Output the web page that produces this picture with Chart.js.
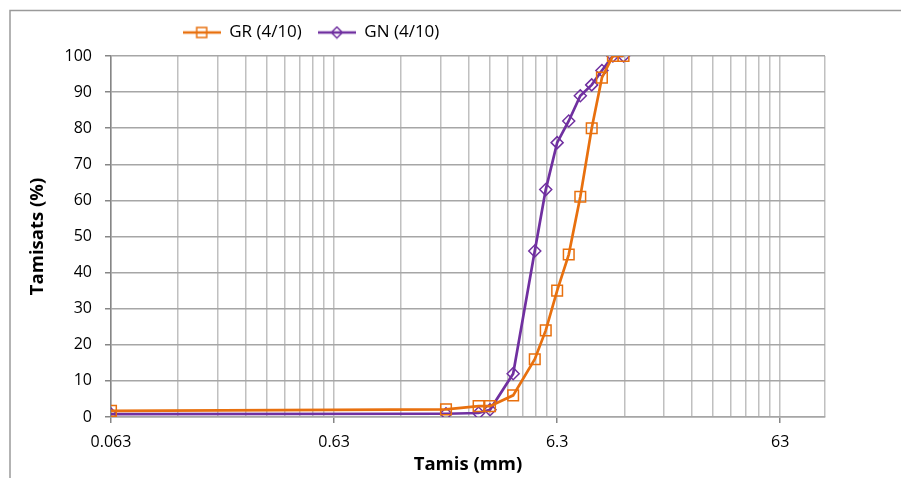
<!DOCTYPE html>
<html>
<head>
<meta charset="utf-8">
<script src="https://cdn.jsdelivr.net/npm/chart.js@4.4.1/dist/chart.umd.min.js"></script>
<style>
  html, body { margin: 0; padding: 0; background: #fff; }
</style>
</head>
<body>
<canvas id="grafico" width="901" height="478"></canvas>
<script>
// tamis (mm) et tamisats (%)
const tamis = [0.063, 2, 2.8, 3.15, 4, 5, 5.6, 6.3, 7.1, 8, 9, 10, 11.2, 12.5];
const tamisatsGR = [1.7, 2.1, 3, 3, 6, 16, 24, 35, 45, 61, 80, 94, 100, 100];
const tamisatsGN = [0.8, 0.9, 1.1, 2, 12, 46, 63, 76, 82, 89, 92, 96, 100, 100];
const etiquettesX = ['0.063', '0.63', '6.3', '63'];
const ticksMajeursX = [0.063, 0.63, 6.3, 63];
const ticksY = [0, 10, 20, 30, 40, 50, 60, 70, 80, 90, 100];

const orange = '#E8700E';
const violet = '#7030A0';
const police = "'Open Sans', sans-serif";

// grille du log : 1..9 x chaque majeur, jusqu'a 100
let grilleX = [];
ticksMajeursX.forEach(m => {
  for (let k = 1; k <= 9; k++) {
    const v = +(m * k).toPrecision(6);
    if (v <= 100) grilleX.push(v);
  }
});
grilleX.push(100);

function iconeLegende(couleur, forme) {
  const c = document.createElement('canvas');
  c.width = 38; c.height = 14;
  const ctx = c.getContext('2d');
  ctx.strokeStyle = couleur;
  ctx.lineWidth = 2.5;
  ctx.beginPath(); ctx.moveTo(0, 7); ctx.lineTo(38, 7); ctx.stroke();
  ctx.lineWidth = 1.5;
  ctx.beginPath();
  if (forme === 'rect') {
    ctx.rect(14, 2, 10, 10);
  } else {
    ctx.moveTo(19, 1.5); ctx.lineTo(24.5, 7); ctx.lineTo(19, 12.5); ctx.lineTo(13.5, 7); ctx.closePath();
  }
  ctx.stroke();
  return c;
}

const cadre = {
  id: 'cadre',
  afterLayout(chart) {
    // legende placee comme dans Excel
    const lg = chart.legend;
    const h = lg.bottom - lg.top;
    lg.left = 311 - 250;
    lg.right = 311 + 250;
    lg.top = 8;
    lg.bottom = 8 + h;
  },
  afterDraw(chart) {
    const ctx = chart.ctx;
    ctx.save();
    ctx.strokeStyle = '#9a9a9a';
    ctx.lineWidth = 1.5;
    ctx.beginPath();
    ctx.moveTo(10, 478); ctx.lineTo(10, 10.5); ctx.lineTo(901, 10.5);
    ctx.stroke();
    ctx.restore();
  }
};

const puntos = (ys) => tamis.map((x, i) => ({ x: x, y: ys[i] }));

new Chart(document.getElementById('grafico'), {
  type: 'line',
  data: {
    datasets: [{
      label: 'GR (4/10)',
      data: puntos(tamisatsGR),
      borderColor: orange,
      borderWidth: 2.7,
      pointStyle: 'rect',
      pointRadius: 7.5,
      pointBorderWidth: 1.5,
      pointBackgroundColor: 'rgba(0,0,0,0)',
      pointBorderColor: orange,
      tension: 0
    }, {
      label: 'GN (4/10)',
      data: puntos(tamisatsGN),
      borderColor: violet,
      borderWidth: 2.7,
      pointStyle: 'rectRot',
      pointRadius: 6,
      pointBorderWidth: 1.5,
      pointBackgroundColor: 'rgba(0,0,0,0)',
      pointBorderColor: violet,
      tension: 0
    }]
  },
  options: {
    responsive: false,
    animation: false,
    layout: { padding: { top: 13, right: 76, bottom: 0, left: 0 } },
    plugins: {
      tooltip: { enabled: false },
      legend: {
        position: 'top',
        labels: {
          usePointStyle: true,
          pointStyleWidth: 38,
          padding: 16,
          color: '#000',
          font: { family: police, size: 17 },
          generateLabels(chart) {
            const items = Chart.defaults.plugins.legend.labels.generateLabels(chart);
            items[0].pointStyle = iconeLegende(orange, 'rect');
            items[1].pointStyle = iconeLegende(violet, 'diamond');
            return items;
          }
        }
      }
    },
    scales: {
      x: {
        type: 'logarithmic',
        min: 0.063,
        max: 100,
        afterBuildTicks(scale) {
          scale.ticks = grilleX.map(v => ({ value: v }));
        },
        afterFit(scale) { scale.height = 61; },
        ticks: {
          autoSkip: false,
          maxRotation: 0,
          padding: 10,
          color: '#000',
          font: { family: police, size: 16 },
          callback(v) {
            const i = ticksMajeursX.findIndex(m => Math.abs(m - v) < 1e-9);
            return i >= 0 ? etiquettesX[i] : '';
          }
        },
        grid: {
          color: '#c0c0c0',
          lineWidth: 1.5,
          tickLength: 6,
          tickColor(ctx) {
            const v = ctx.tick ? ctx.tick.value : null;
            return ticksMajeursX.some(m => Math.abs(m - v) < 1e-9) ? '#868686' : 'rgba(0,0,0,0)';
          }
        },
        border: { color: '#a6a6a6', width: 1.5 },
        title: {
          display: true,
          text: 'Tamis (mm)',
          color: '#000',
          font: { family: police, size: 18.5, weight: 'bold' },
          padding: { top: 0, bottom: 2 }
        }
      },
      y: {
        min: 0,
        max: 100,
        afterBuildTicks(scale) {
          scale.ticks = ticksY.map(v => ({ value: v }));
        },
        afterFit(scale) { scale.width = 111; },
        ticks: {
          padding: 13,
          color: '#000',
          font: { family: police, size: 16 }
        },
        grid: {
          color: '#a6a6a6',
          lineWidth: 1.5,
          tickLength: 6,
          tickColor: '#868686'
        },
        border: { color: '#868686', width: 1.5 },
        title: {
          display: true,
          text: 'Tamisats (%)',
          color: '#000',
          font: { family: police, size: 18.5, weight: 'bold' },
          padding: { top: 27, bottom: 0 }
        }
      }
    }
  },
  plugins: [cadre]
});
</script>
</body>
</html>
